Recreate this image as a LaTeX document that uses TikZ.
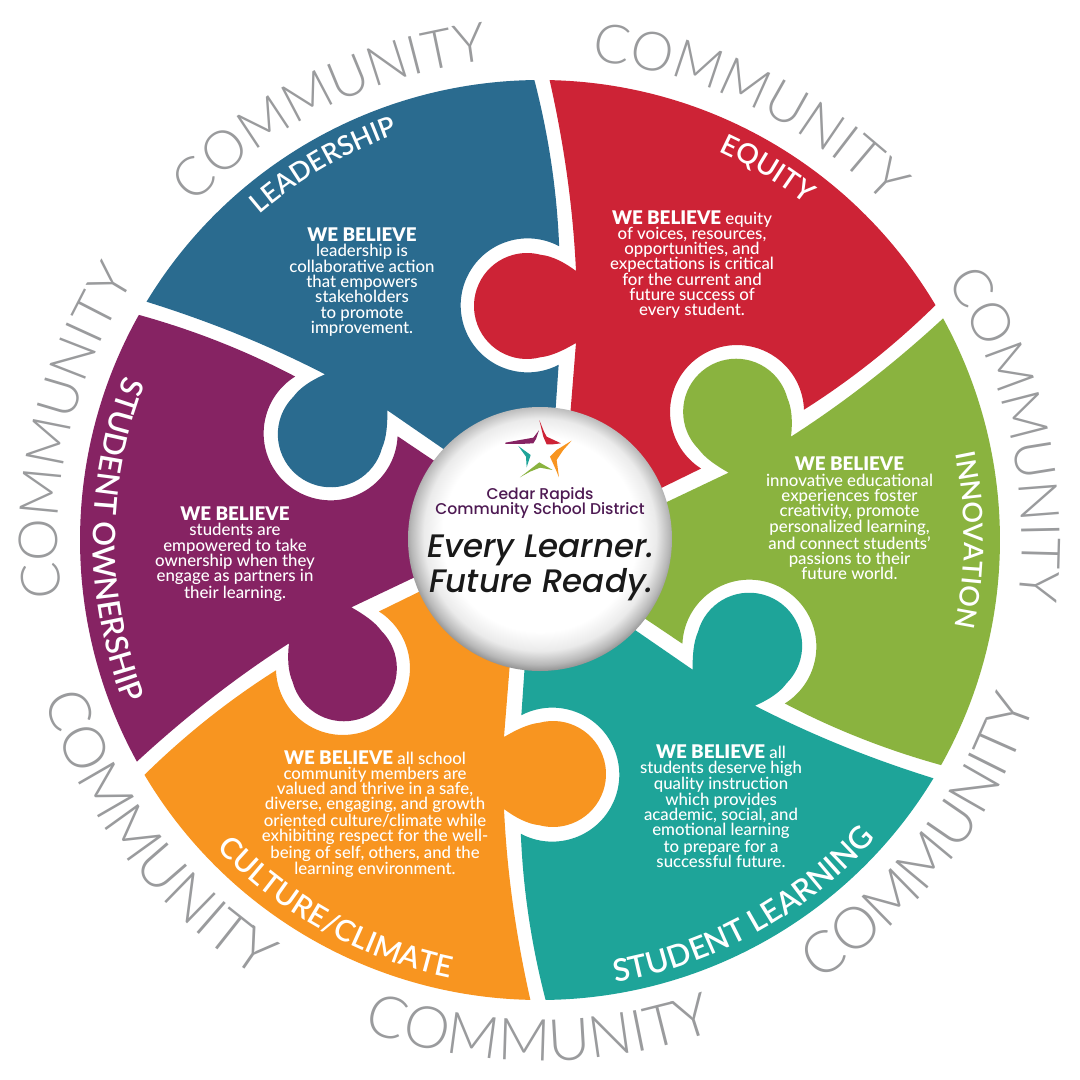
\documentclass[tikz,border=0pt]{standalone}
\usepackage{fontspec}
\usetikzlibrary{decorations.text}
\setmainfont{Lato Medium}[BoldFont={Lato Black}]
\newfontfamily\logofont{Poppins Medium}[ItalicFont={Poppins Medium Italic}]
\newfontfamily\ringfont{Lato Light}
\newfontfamily\titlefont{Lato Semibold}
\definecolor{equityred}{HTML}{CD2336}
\definecolor{innovgreen}{HTML}{8AB33F}
\definecolor{learnteal}{HTML}{1EA499}
\definecolor{cultureorange}{HTML}{F89520}
\definecolor{ownerpurple}{HTML}{862363}
\definecolor{leadblue}{HTML}{2A6B8F}
\definecolor{ringgray}{HTML}{9A9B9D}
\definecolor{logopurple}{HTML}{4E1A53}
\pgfdeclareradialshading{discglow}{\pgfpoint{0bp}{1.5bp}}{
	color(0bp)=(white); color(18.5bp)=(white); color(22bp)=(black!8); color(24.5bp)=(black!28); color(26.5bp)=(black!52); color(50bp)=(black!52)
}
\tikzset{
	belief/.style={align=center, text=white, font=\fontsize{16.8}{15.3}\selectfont, inner sep=0pt},
	slogan/.style={anchor=base, text=black!90, font=\logofont\itshape\fontsize{32.5}{33}\selectfont, inner sep=0pt},
	logoline/.style={anchor=base, text=logopurple, font=\logofont\fontsize{15.6}{15}\selectfont, inner sep=0pt}
}
\newcommand{\weBelieve}{{\bfseries\fontsize{18.8}{15.3}\selectfont WE BELIEVE}}
% one piece, drawn where the red one sits
\newcommand{\puzzlePiece}[2]{
	\fill[#2, rotate=#1] (88.8:460) arc[start angle=88.8, end angle=30.7, radius=460]
		.. controls (355,195) and (311,160) .. (264,130.3)
		arc[start angle=2, end angle=237.5, radius=67]
		-- (60,22) -- (25,60) -- (36,197)
		.. controls (24,190) and (12,184) .. (0.7,182.8)
		arc[start angle=-75, end angle=-285, radius=53]
		.. controls (12,284) and (24,278) .. (36,269)
		.. controls (33,333) and (24,396) .. (88.8:460) -- cycle;
}
\newcommand{\arcLabel}[5]{
	\path[decorate, decoration={text along path, text align=center, text color=white, text={|\titlefont\fontsize{#4}{#4}\selectfont|#5}}] (#1:#3) arc[start angle=#1, end angle=#2, radius=#3];
}
\newcommand{\ringOut}[1]{
	\path[decorate, decoration={text along path, text align=center, text color=ringgray, text={|\ringfont\fontsize{54}{54}\selectfont|COMMUNITY}}] (#1+28:482) arc[start angle=#1+28, end angle=#1-28, radius=482];
}
\newcommand{\ringIn}[1]{
	\path[decorate, decoration={text along path, text align=center, text color=ringgray, text={|\ringfont\fontsize{58}{58}\selectfont|COMMUNITY}}] (#1-28:521) arc[start angle=#1-28, end angle=#1+28, radius=521];
}

\begin{document}
\begin{tikzpicture}[x=1pt, y=1pt]
	\useasboundingbox (-540,-540) rectangle (540,540);
	\fill[white] (-540,-540) rectangle (540,540);

	% Pieces
	\foreach \rot/\col in {0/equityred, -60/innovgreen, -120/learnteal, -180/cultureorange, -240/ownerpurple, 60/leadblue}{
		\puzzlePiece{\rot}{\col}
	}

	% Outer word
	\foreach \midAngle in {116, 64, 12.7, 167}{
		\ringOut{\midAngle}
	}
	\foreach \midAngle in {-38, -90.1, 217.5}{
		\ringIn{\midAngle}
	}

	% Piece titles
	\arcLabel{135}{105}{430}{27}{LEADERSHIP}
	\arcLabel{72}{45}{428}{28}{EQUITY}
	\arcLabel{18}{-18}{424}{27}{INNOVATION}
	\arcLabel{-95}{-27}{449}{31}{STUDENT LEARNING}
	\arcLabel{210}{272}{447}{29.5}{CULTURE/CLIMATE}
	\arcLabel{152}{208}{447}{31}{STUDENT OWNERSHIP}

	% Beliefs
	\node[belief] (leadText) at (-178,258) {\weBelieve\\leadership is\\collaborative action\\that empowers\\stakeholders\\to promote\\improvement.};
	\node[belief] (equityText) at (152,275.5) {\weBelieve{} equity\\of voices, resources,\\opportunities, and\\expectations is critical\\for the current and\\future success of\\every student.};
	\node[belief] (innovText) at (309.5,21.5) {\weBelieve\\innovative educational\\experiences foster\\creativity, promote\\personalized learning,\\and connect students'\\passions to their\\future world.};
	\node[belief] (learnText) at (181,-266) {\weBelieve{} all\\students deserve high\\quality instruction\\which provides\\academic, social, and\\emotional learning\\to prepare for a\\successful future.};
	\node[belief] (cultureText) at (-165,-274) {\weBelieve{} all school\\community members are\\valued and thrive in a safe,\\diverse, engaging, and growth\\oriented culture/climate while\\exhibiting respect for the well-\\being of self, others, and the\\learning environment.};
	\node[belief] (ownerText) at (-305,-14) {\weBelieve\\students are\\empowered to take\\ownership when they\\engage as partners in\\their learning.};

	% Middle disc
	\shade[shading=discglow] (0,1) circle[radius=132];
	\begin{scope}[shift={(-40,125)}, x=0.3333pt, y=-0.3333pt]
		\fill[equityred] (118,15) -- (132,50) -- (140,65) -- (183,85) -- (158,88) -- (140,88) -- (130,65) -- cycle;
		\fill[ownerpurple] (16,83) -- (60,75) -- (100,68) -- (117,46) -- (108,72) -- (100,85) -- (60,87) -- (16,87) -- cycle;
		\fill[cultureorange] (215,77) -- (190,105) -- (170,135) -- (177,187) -- (168,165) -- (150,125) -- (170,105) -- cycle;
		\fill[learnteal] (55,93) -- (92,120) -- (80,157) -- (78,125) -- cycle;
		\fill[innovgreen] (60,187) -- (118,142) -- (158,165) -- (120,158) -- (90,170) -- cycle;
	\end{scope}
	\node[logoline] (logoTop) at (0,41) {Cedar Rapids};
	\node[logoline] (logoBottom) at (0,26) {Community School District};
	\node[slogan] (sloganTop) at (1,-17) {Every Learner.};
	\node[slogan] (sloganBottom) at (1.5,-52) {Future Ready.};
\end{tikzpicture}
\end{document}
